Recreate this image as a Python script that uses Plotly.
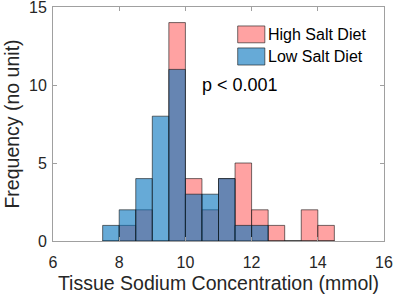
import plotly.graph_objects as go

bin_centers = [7.75, 8.25, 8.75, 9.25, 9.75, 10.25, 10.75, 11.25, 11.75, 12.25, 12.75, 13.25, 13.75, 14.25]
high_salt = [0, 1, 2, 0, 14, 4, 2, 4, 5, 2, 1, 0, 2, 1]
low_salt = [1, 2, 4, 8, 11, 3, 3, 4, 1, 1, 0, 0, 0, 0]
x_ticks = [6, 8, 10, 12, 14, 16]
y_ticks = [0, 5, 10, 15]

RED = "rgba(255,100,100,0.6)"
BLUE = "rgba(0,114,189,0.6)"
EDGE = "rgba(20,20,20,0.6)"
FONT = "Liberation Sans, Arial, sans-serif"

fig = go.Figure()
fig.add_trace(go.Bar(x=bin_centers, y=high_salt, width=0.5, name="High Salt Diet",
                     marker=dict(color=RED, line=dict(color=EDGE, width=1))))
fig.add_trace(go.Bar(x=bin_centers, y=low_salt, width=0.5, name="Low Salt Diet",
                     marker=dict(color=BLUE, line=dict(color=EDGE, width=1))))

# custom legend (MATLAB style)
legend_items = [("High Salt Diet", RED, 0.919, 0.847), ("Low Salt Diet", BLUE, 0.825, 0.752)]
for label, col, y1, y0 in legend_items:
    fig.add_shape(type="rect", xref="paper", yref="paper", x0=0.558, x1=0.640, y0=y0, y1=y1,
                  fillcolor=col, line=dict(color=EDGE, width=1))
    fig.add_annotation(xref="paper", yref="paper", x=0.645, y=(y0 + y1) / 2, text=label,
                       showarrow=False, xanchor="left", yanchor="middle",
                       font=dict(family=FONT, size=16, color="#000000"))

fig.add_annotation(x=10.45, y=10, text="p < 0.001", showarrow=False, xanchor="left", yanchor="middle",
                   font=dict(family=FONT, size=18, color="#000000"))

axis_common = dict(showline=True, linecolor="#a0a0a0", linewidth=1, mirror="ticks", automargin=False,
                   ticks="inside", ticklen=4, tickcolor="#a0a0a0", showgrid=False, zeroline=False,
                   ticklabeloverflow="allow",
                   tickfont=dict(family=FONT, size=16, color="#262626"))
fig.update_xaxes(range=[6, 16], tickvals=x_ticks, **axis_common, ticklabelstandoff=7,
                 title=dict(text="Tissue Sodium Concentration (mmol)", standoff=6,
                            font=dict(family=FONT, size=19.5, color="#262626")))
fig.update_yaxes(range=[0, 15], tickvals=y_ticks, **axis_common, ticklabelstandoff=2,
                 title=dict(text="Frequency (no unit)", standoff=4,
                            font=dict(family=FONT, size=19.5, color="#262626")))

fig.update_layout(width=400, height=301, barmode="overlay", showlegend=False,
                  plot_bgcolor="white", paper_bgcolor="white",
                  margin=dict(l=53, r=16, t=7, b=60))
fig.write_html("out.html", config={"displayModeBar": False},
               post_script="document.body.style.margin='0';document.body.style.padding='0';")
